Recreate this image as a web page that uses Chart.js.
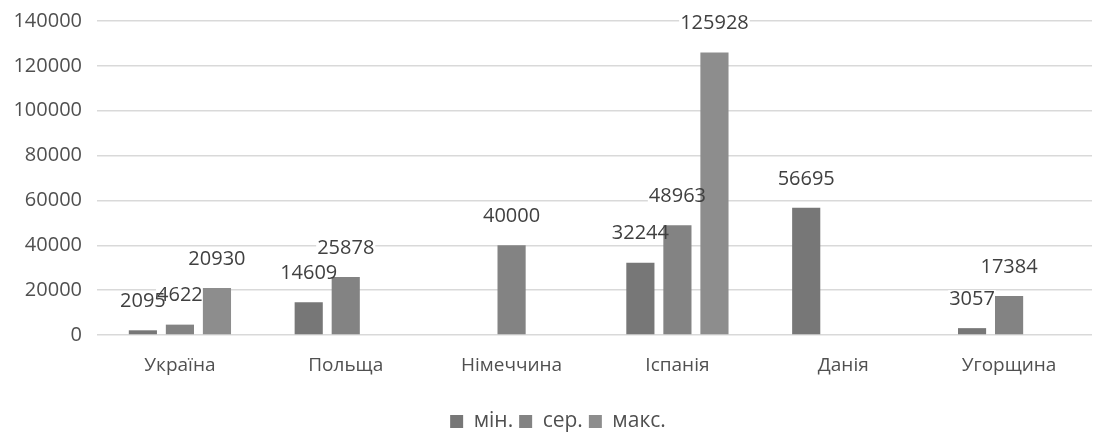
<!DOCTYPE html>
<html>
<head>
<meta charset="utf-8">
<script src="https://cdn.jsdelivr.net/npm/chart.js@4.4.1/dist/chart.umd.min.js"></script>
<style>
  html, body { margin: 0; padding: 0; background: #ffffff; overflow: hidden; }
  #wrap { width: 1099px; height: 442px; position: relative; }
</style>
</head>
<body>
<div id="wrap"><canvas id="c"></canvas></div>
<script>
const categories = ['Україна', 'Польща', 'Німеччина', 'Іспанія', 'Данія', 'Угорщина'];
const seriesNames = ['мін.', 'сер.', 'макс.'];
const minValues = [2095, 14609, null, 32244, 56695, 3057];
const avgValues = [4622, 25878, 40000, 48963, null, 17384];
const maxValues = [20930, null, null, 125928, null, null];
const yTicks = [0, 20000, 40000, 60000, 80000, 100000, 120000, 140000];

const FONT = "'Open Sans', 'Liberation Sans', sans-serif";
const LABEL_FONT = "20px " + FONT;

function collectLabels(chart) {
  const items = [];
  chart.data.datasets.forEach((ds, di) => {
    const meta = chart.getDatasetMeta(di);
    meta.data.forEach((el, i) => {
      const v = ds.data[i];
      if (v === null || v === undefined) return;
      items.push({ text: String(v), x: el.x, y: el.y - 29 });
    });
  });
  return items;
}

const valueLabels = {
  id: 'valueLabels',
  afterLayout(chart) {
    if (chart.legend) { chart.legend.left += 24; }
  },
  beforeDatasetsDraw(chart) {
    const ctx = chart.ctx;
    ctx.save();
    ctx.font = LABEL_FONT;
    ctx.fillStyle = '#ffffff';
    collectLabels(chart).forEach(it => {
      const w = ctx.measureText(it.text).width;
      ctx.fillRect(it.x - w / 2 - 1, it.y - 9, w + 2, 18);
    });
    ctx.restore();
  },
  afterDatasetsDraw(chart) {
    const ctx = chart.ctx;
    ctx.save();
    ctx.font = LABEL_FONT;
    ctx.textAlign = 'center';
    ctx.textBaseline = 'middle';
    ctx.fillStyle = '#404040';
    collectLabels(chart).forEach(it => ctx.fillText(it.text, it.x, it.y));
    ctx.restore();
  }
};

new Chart(document.getElementById('c'), {
  type: 'bar',
  data: {
    labels: categories,
    datasets: [
      { label: seriesNames[0], data: minValues, backgroundColor: '#777777' },
      { label: seriesNames[1], data: avgValues, backgroundColor: '#838383' },
      { label: seriesNames[2], data: maxValues, backgroundColor: '#8d8d8d' }
    ]
  },
  options: {
    responsive: true,
    maintainAspectRatio: false,
    animation: false,
    datasets: { bar: { categoryPercentage: 0.67, barPercentage: 0.76 } },
    layout: { padding: { top: 21, right: 7, left: 0, bottom: 0 } },
    plugins: {
      legend: {
        position: 'bottom',
        labels: {
          font: { family: FONT, size: 21 },
          color: '#505050',
          boxWidth: 13,
          boxHeight: 13,
          padding: 6
        }
      },
      tooltip: { enabled: false }
    },
    scales: {
      x: {
        grid: { display: false, drawTicks: false },
        border: { display: false },
        ticks: { font: { family: FONT, size: 19 }, color: '#505050', padding: 19 },
        afterFit(s) { s.height = 70; }
      },
      y: {
        min: yTicks[0],
        max: yTicks[yTicks.length - 1],
        afterBuildTicks(s) { s.ticks = yTicks.map(v => ({ value: v })); },
        grid: { color: '#d9d9d9', lineWidth: 1.5, drawTicks: false },
        border: { display: false },
        ticks: {
          font: { family: FONT, size: 20 },
          color: '#505050',
          padding: 15,
          callback: v => String(v)
        },
        afterFit(s) { s.width = 97; s.paddingTop = 0; s.paddingBottom = 0; }
      }
    }
  },
  plugins: [valueLabels]
});
</script>
</body>
</html>
